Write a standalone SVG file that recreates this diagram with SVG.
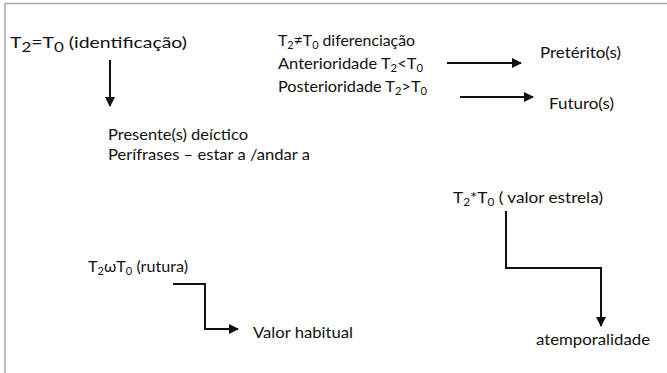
<svg xmlns="http://www.w3.org/2000/svg" width="667" height="373" viewBox="0 0 667 373">
<style>
text{font-family:Lato,"Open Sans","Liberation Sans",sans-serif;fill:#111;font-size:16px}
.c{fill:none;stroke:#111;stroke-width:2}
.sub{font-size:11px}
</style>
<defs>
<marker id="ah" viewBox="0 0 10 10" refX="9" refY="5" markerWidth="5" markerHeight="5" orient="auto" markerUnits="strokeWidth">
<path d="M0,0 L10,5 L0,10 z" fill="#111"/>
</marker>
</defs>
<rect width="667" height="373" fill="#fff"/>
<path d="M5,373 V3.5 H667" fill="none" stroke="#aaa" stroke-width="1.5"/>
<g id="connectors">
<path class="c" d="M110,60 V106" marker-end="url(#ah)"/>
<path class="c" d="M447,63 H521" marker-end="url(#ah)"/>
<path class="c" d="M460,97 H533" marker-end="url(#ah)"/>
<path class="c" d="M506,211 V268 H601 V326" marker-end="url(#ah)"/>
<path class="c" d="M173,284 H205 V329 H238" marker-end="url(#ah)"/>
</g>
<g id="identificacao"><text x="10" y="48" font-size="21" textLength="177" lengthAdjust="spacingAndGlyphs">T<tspan font-size="14" dy="4">2</tspan><tspan dy="-4">=T</tspan><tspan font-size="14" dy="4">0</tspan><tspan dy="-4"> (identificação)</tspan></text></g>
<g id="presente"><text x="108" y="140" textLength="140" lengthAdjust="spacingAndGlyphs">Presente(s) deíctico</text><text x="108" y="160" textLength="202" lengthAdjust="spacingAndGlyphs">Perífrases – estar a /andar a</text></g>
<g id="diferenciacao">
<text x="278" y="46" textLength="137" lengthAdjust="spacingAndGlyphs">T<tspan class="sub" dy="3">2</tspan><tspan dy="-3">≠T</tspan><tspan class="sub" dy="3">0</tspan><tspan dy="-3"> diferenciação</tspan></text>
<text x="278" y="69" textLength="145" lengthAdjust="spacingAndGlyphs">Anterioridade T<tspan class="sub" dy="3">2</tspan><tspan dy="-3">&lt;T</tspan><tspan class="sub" dy="3">0</tspan></text>
<text x="278" y="92" textLength="149" lengthAdjust="spacingAndGlyphs">Posterioridade T<tspan class="sub" dy="3">2</tspan><tspan dy="-3">&gt;T</tspan><tspan class="sub" dy="3">0</tspan></text>
</g>
<g id="preterito"><text x="540" y="58" textLength="81" lengthAdjust="spacingAndGlyphs">Pretérito(s)</text></g>
<g id="futuro"><text x="549" y="109" textLength="65" lengthAdjust="spacingAndGlyphs">Futuro(s)</text></g>
<g id="estrela"><text x="453" y="203" textLength="150" lengthAdjust="spacingAndGlyphs">T<tspan class="sub" dy="3">2</tspan><tspan dy="-3">*T</tspan><tspan class="sub" dy="3">0</tspan><tspan dy="-3"> ( valor estrela)</tspan></text></g>
<g id="atemporalidade"><text x="536" y="345" textLength="114" lengthAdjust="spacingAndGlyphs">atemporalidade</text></g>
<g id="rutura"><text x="88" y="272" textLength="100" lengthAdjust="spacingAndGlyphs">T<tspan class="sub" dy="3">2</tspan><tspan dy="-3">ωT</tspan><tspan class="sub" dy="3">0</tspan><tspan dy="-3"> (rutura)</tspan></text></g>
<g id="habitual"><text x="253" y="338" textLength="100" lengthAdjust="spacingAndGlyphs">Valor habitual</text></g>
</svg>
